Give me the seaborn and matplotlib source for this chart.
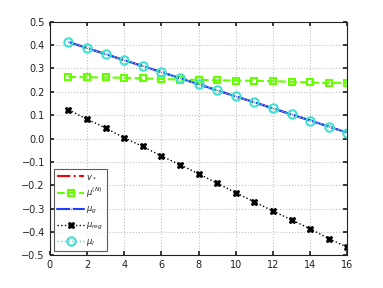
import matplotlib.pyplot as plt
import pandas as pd
import seaborn as sns

# Datos
x = list(range(1, 17))
v_star = [0.413, 0.387, 0.361, 0.335, 0.310, 0.284, 0.258, 0.232,
          0.206, 0.180, 0.155, 0.129, 0.103, 0.077, 0.051, 0.025]
mu_n = [0.263, 0.262, 0.261, 0.260, 0.257, 0.255, 0.252, 0.251,
        0.249, 0.248, 0.247, 0.245, 0.243, 0.240, 0.237, 0.239]
mu_g = v_star
mu_reg = [0.123, 0.083, 0.045, 0.003, -0.034, -0.075, -0.112, -0.151,
          -0.191, -0.232, -0.271, -0.310, -0.348, -0.386, -0.428, -0.465]
mu_l = v_star

sns.set_theme(style="ticks")
plt.rcParams.update({"font.size": 7, "font.family": ["DejaVu Sans"]})

df = pd.DataFrame({"x": x, "v": v_star, "n": mu_n, "g": mu_g,
                   "reg": mu_reg, "l": mu_l})

fig, ax = plt.subplots(figsize=(3.83, 2.88), dpi=100)
fig.subplots_adjust(left=0.13, right=0.907, top=0.925, bottom=0.113)

sns.lineplot(data=df, x="x", y="v", ax=ax, color="red", linestyle="-.",
             linewidth=1.5, label=r"$v_*$")
sns.lineplot(data=df, x="x", y="n", ax=ax, color="#66ff00", linestyle="--",
             linewidth=1.5, marker="s", markersize=5, markerfacecolor="none",
             markeredgecolor="#66ff00", markeredgewidth=1.5,
             label=r"$\mu^{(N)}$")
sns.lineplot(data=df, x="x", y="g", ax=ax, color="#1f3fff", linestyle="-",
             linewidth=1.5, marker=".", markersize=3, label=r"$\mu_g$")
sns.lineplot(data=df, x="x", y="reg", ax=ax, color="black", linestyle=":",
             linewidth=1.0, marker="X", markersize=4.5, markeredgecolor="black",
             label=r"$\mu_{reg}$")
sns.lineplot(data=df, x="x", y="l", ax=ax, color="#40e0d0", linestyle=":",
             linewidth=1.0, marker="o", markersize=6, markerfacecolor="none",
             markeredgecolor="#40e0d0", markeredgewidth=1.5,
             label=r"$\mu_l$")

ax.set_xlim(0, 16)
ax.set_ylim(-0.5, 0.5)
ax.set_xticks(range(0, 17, 2))
ax.set_yticks([i / 10 for i in range(-5, 6)])
ax.set_xlabel("")
ax.set_ylabel("")
ax.grid(True, linestyle=":", color="#c0c0c0", linewidth=0.8)
ax.tick_params(direction="in", length=3, labelsize=7, top=True, right=True,
               colors="#222222")
for s in ax.spines.values():
    s.set_color("#222222")
    s.set_linewidth(0.8)

leg = ax.legend(loc="lower left", fontsize=6, frameon=True, fancybox=False,
                edgecolor="#333333", handlelength=3.2, borderpad=0.4,
                labelspacing=0.55, handletextpad=0.3)
leg.get_frame().set_linewidth(0.8)

plt.savefig("out.png", dpi=100)
plt.close()
